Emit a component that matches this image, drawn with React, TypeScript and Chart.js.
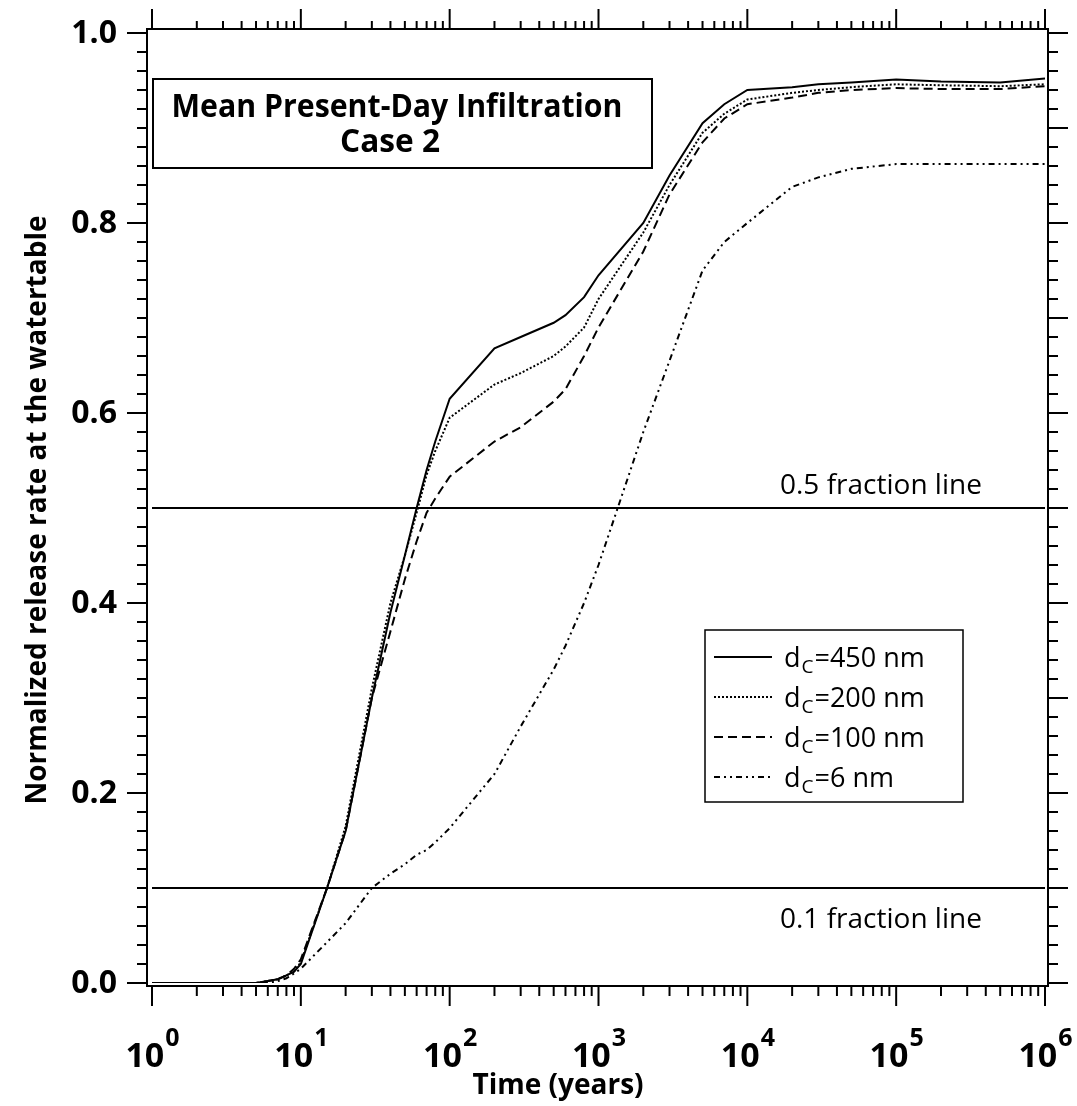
import React, { useEffect, useRef } from "react";
import { Chart, registerables } from "chart.js";

Chart.register(...registerables);

// ---------------- data ----------------
const times = [1, 2, 3, 4, 5, 6, 7, 8, 9, 10, 15, 20, 30, 40, 50, 60, 70, 80, 100, 200, 300, 500, 600, 800, 1000, 2000, 3000, 5000, 7000, 10000, 20000, 30000, 50000, 100000, 200000, 500000, 1000000];

const release450 = [0, 0, 0, 0, 0, 0.002, 0.004, 0.008, 0.012, 0.02, 0.1, 0.16, 0.3, 0.39, 0.45, 0.5, 0.54, 0.57, 0.615, 0.668, 0.68, 0.695, 0.703, 0.722, 0.745, 0.8, 0.85, 0.905, 0.925, 0.94, 0.943, 0.946, 0.948, 0.951, 0.949, 0.948, 0.952];
const release200 = [0, 0, 0, 0, 0, 0.002, 0.004, 0.008, 0.012, 0.022, 0.1, 0.165, 0.31, 0.4, 0.45, 0.495, 0.535, 0.56, 0.595, 0.63, 0.642, 0.66, 0.67, 0.69, 0.72, 0.79, 0.84, 0.895, 0.915, 0.93, 0.937, 0.94, 0.943, 0.946, 0.945, 0.944, 0.946];
const release100 = [0, 0, 0, 0, 0, 0.002, 0.004, 0.008, 0.015, 0.025, 0.1, 0.16, 0.3, 0.37, 0.425, 0.465, 0.495, 0.51, 0.533, 0.57, 0.585, 0.612, 0.625, 0.66, 0.69, 0.77, 0.83, 0.885, 0.91, 0.925, 0.932, 0.937, 0.94, 0.942, 0.941, 0.941, 0.944];
const release6 = [0, 0, 0, 0, 0, 0, 0.002, 0.005, 0.01, 0.015, 0.043, 0.063, 0.1, 0.115, 0.125, 0.135, 0.14, 0.148, 0.163, 0.22, 0.27, 0.33, 0.355, 0.4, 0.44, 0.58, 0.655, 0.75, 0.78, 0.8, 0.838, 0.848, 0.857, 0.862, 0.862, 0.862, 0.862];

const seriesNames = ["450 nm", "200 nm", "100 nm", "6 nm"];
const seriesDashes: number[][] = [[], [2, 2], [9, 5], [6, 4, 2, 4, 2, 4]];

const fractionValues = [0.5, 0.1];
const fractionLabels = ["0.5 fraction line", "0.1 fraction line"];

const yTickValues = [0, 0.2, 0.4, 0.6, 0.8, 1.0];
const yTickLabels = ["0.0", "0.2", "0.4", "0.6", "0.8", "1.0"];
const xExponents = [0, 1, 2, 3, 4, 5, 6];

const titleLines = ["Mean Present-Day Infiltration", "Case 2"];
const xTitle = "Time (years)";
const yTitle = "Normalized release rate at the watertable";

const X_MIN = 1;
const X_MAX = 1e6;

const FONT = "'Open Sans', 'Noto Sans', sans-serif";

// ---------------- component ----------------
export default function App() {
  const ref = useRef<HTMLCanvasElement | null>(null);

  useEffect(() => {
    const canvas = ref.current;
    if (!canvas) return;

    const seriesData = [release450, release200, release100, release6];

    const datasets: any[] = seriesData.map((vals, i) => ({
      label: seriesNames[i],
      data: times.map((t, k) => ({ x: t, y: vals[k] })),
      borderColor: "#000",
      borderWidth: 2,
      borderDash: seriesDashes[i],
      pointRadius: 0,
      tension: 0,
      fill: false,
    }));
    fractionValues.forEach((v, i) => {
      datasets.push({
        label: fractionLabels[i],
        data: [
          { x: X_MIN, y: v },
          { x: X_MAX, y: v },
        ],
        borderColor: "#000",
        borderWidth: 2,
        pointRadius: 0,
        fill: false,
      });
    });

    // draw text squeezed horizontally to a target width
    const fitText = (ctx: CanvasRenderingContext2D, s: string, cx: number, y: number, width: number) => {
      const w = ctx.measureText(s).width;
      const sx = width / w;
      ctx.save();
      ctx.translate(cx, y);
      ctx.scale(sx, 1);
      ctx.textAlign = "center";
      ctx.fillText(s, 0, 0);
      ctx.restore();
    };

    const decorPlugin = {
      id: "decor",
      afterDraw(chart: any) {
        const ctx: CanvasRenderingContext2D = chart.ctx;
        const xs = chart.scales.x;
        const ys = chart.scales.y;
        const ca = chart.chartArea;
        const L = ca.left - 5;
        const R = ca.right + 3;
        const T = ca.top - 4;
        const B = ca.bottom + 3;

        ctx.save();
        ctx.strokeStyle = "#000";
        ctx.fillStyle = "#000";
        ctx.lineWidth = 2;
        ctx.lineCap = "butt";
        ctx.setLineDash([]);

        const seg = (x1: number, y1: number, x2: number, y2: number) => {
          ctx.beginPath();
          ctx.moveTo(x1, y1);
          ctx.lineTo(x2, y2);
          ctx.stroke();
        };

        // axis frame
        seg(L, T, L, B);
        seg(R, T, R, B);
        seg(L - 1, T, R + 1, T);
        seg(L - 1, B, R + 1, B);

        // y ticks
        for (let k = 0; k <= 50; k++) {
          const v = k / 50;
          const py = ys.getPixelForValue(v);
          const majL = k % 10 === 0;
          seg(L, py, L - (majL ? 20 : 10), py);
          const majR = k % 5 === 0;
          seg(R, py, R + (majR ? 20 : 10), py);
        }

        // x ticks
        for (let d = 0; d <= 6; d++) {
          for (let m = 1; m <= 9; m++) {
            const v = m * Math.pow(10, d);
            if (v > X_MAX) break;
            const px = xs.getPixelForValue(v);
            const major = m === 1;
            seg(px, T, px, T - (major ? 20 : 8));
            seg(px, B, px, B + (major ? 20 : 10));
          }
        }

        // y tick labels
        ctx.font = `bold 32px ${FONT}`;
        ctx.textAlign = "right";
        ctx.textBaseline = "middle";
        yTickValues.forEach((v, i) => {
          ctx.fillText(yTickLabels[i], L - 30, ys.getPixelForValue(v) + 1);
        });

        // x tick labels: 10^n
        xExponents.forEach((e) => {
          const px = xs.getPixelForValue(Math.pow(10, e));
          ctx.font = `bold 34px ${FONT}`;
          const wBase = ctx.measureText("10").width;
          ctx.font = `bold 25px ${FONT}`;
          const wSup = ctx.measureText(String(e)).width;
          const x0 = px - (wBase + wSup) / 2;
          ctx.textAlign = "left";
          ctx.textBaseline = "alphabetic";
          ctx.font = `bold 34px ${FONT}`;
          ctx.fillText("10", x0, 1067);
          ctx.font = `bold 25px ${FONT}`;
          ctx.fillText(String(e), x0 + wBase + 1, 1046);
        });

        // axis titles
        ctx.font = `bold 28px ${FONT}`;
        ctx.textAlign = "center";
        ctx.textBaseline = "middle";
        ctx.fillText(xTitle, 558, 1086);

        ctx.save();
        ctx.translate(38, 510);
        ctx.rotate(-Math.PI / 2);
        ctx.fillText(yTitle, 0, 0);
        ctx.restore();

        // fraction line labels
        ctx.font = `28px ${FONT}`;
        ctx.textAlign = "left";
        ctx.textBaseline = "alphabetic";
        ctx.fillText(fractionLabels[0], 780, 494);
        ctx.fillText(fractionLabels[1], 780, 928);

        // title box
        ctx.lineWidth = 2;
        ctx.strokeRect(153, 79, 499, 89);
        ctx.font = `bold 32px ${FONT}`;
        ctx.textBaseline = "alphabetic";
        fitText(ctx, titleLines[0], 397, 117, 451);
        fitText(ctx, titleLines[1], 390, 152, 100);

        // legend
        ctx.lineWidth = 1.5;
        ctx.strokeRect(705, 630, 258, 172);
        const rows = [657, 697, 737, 777];
        rows.forEach((ry, i) => {
          ctx.lineWidth = 2;
          ctx.setLineDash(seriesDashes[i]);
          seg(714, ry, 772, ry);
          ctx.setLineDash([]);
          ctx.textAlign = "left";
          ctx.textBaseline = "alphabetic";
          ctx.font = `27px ${FONT}`;
          let x = 784;
          ctx.fillText("d", x, ry + 10);
          x += ctx.measureText("d").width;
          ctx.font = `19px ${FONT}`;
          ctx.fillText("C", x + 1, ry + 16);
          x += ctx.measureText("C").width + 2;
          ctx.font = `27px ${FONT}`;
          ctx.fillText("=" + seriesNames[i], x, ry + 10);
        });

        ctx.restore();
      },
    };

    const chart = new Chart(canvas, {
      type: "line",
      data: { datasets },
      options: {
        animation: false,
        responsive: false,
        devicePixelRatio: 1,
        layout: { padding: { left: 152, right: 32, top: 33, bottom: 123 } },
        plugins: { legend: { display: false }, tooltip: { enabled: false } },
        scales: {
          x: { type: "logarithmic", min: X_MIN, max: X_MAX, display: false },
          y: { type: "linear", min: 0, max: 1, display: false },
        },
      },
      plugins: [decorPlugin],
    });

    return () => chart.destroy();
  }, []);

  return (
    <div style={{ position: "absolute", left: 0, top: 0, width: 1077, height: 1106, background: "#fff" }}>
      <canvas ref={ref} width={1077} height={1106} style={{ width: 1077, height: 1106 }} />
    </div>
  );
}
